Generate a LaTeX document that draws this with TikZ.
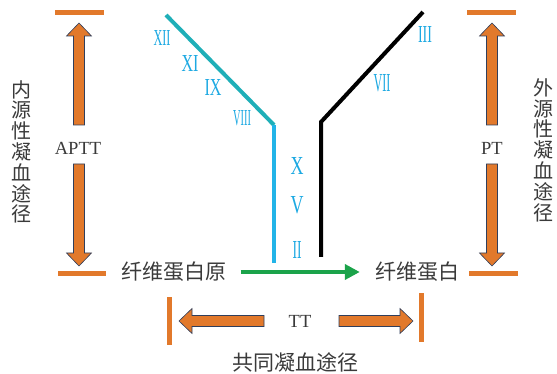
\documentclass[tikz,border=0pt]{standalone}
\usepackage{fontspec}
\setmainfont{Liberation Serif}
\newfontfamily\cjk{Noto Sans CJK SC}
\usetikzlibrary{arrows.meta}
\definecolor{orng}{HTML}{E2792B}
\definecolor{edge}{HTML}{2F3E5C}
\definecolor{teal}{HTML}{1FAFB8}
\definecolor{sky}{HTML}{22B4E8}
\definecolor{numblue}{HTML}{1DA9E2}
\definecolor{grn}{HTML}{1BA34A}
\definecolor{txt}{HTML}{3A3A3A}
% condensed roman numeral: width, height, text
\newcommand{\romlab}[3]{\resizebox{#1pt}{#2pt}{#3}}
% block arrow: tip x, tip y, rotation, total length
\newcommand{\blockarr}[4]{%
  \draw[blockarrow, shift={(#1,#2)}, rotate=#3]
    (0,0) -- (12.5,13) -- (5.5,13) -- (5.5,#4) -- (-5.5,#4) -- (-5.5,13) -- (-12.5,13) -- cycle;}
\begin{document}
\begin{tikzpicture}[x=1pt,y=-1pt,
  blockarrow/.style={fill=orng, draw=edge, line width=0.6pt},
  bar/.style={draw=orng, line width=5pt},
  cn/.style={font=\cjk\fontsize{21}{21}\selectfont, text=txt, inner sep=0pt},
  cnv/.style={font=\cjk\fontsize{20}{20.8}\selectfont, text=txt, inner sep=0pt, align=center},
  lat/.style={font=\fontsize{18.5}{18.5}\selectfont, text=txt, inner sep=0pt},
  rom/.style={text=numblue, inner sep=0pt},
  path/.style={line width=4pt}]
\useasboundingbox (0,0) rectangle (557,374);

% intrinsic pathway (left)
\draw[bar] (55,13) -- (104,13);
\draw[bar] (58,273) -- (106,273);
\blockarr{79}{23}{0}{102}
\blockarr{79}{266}{180}{102}
\node[lat] (aptt) at (78,148) {APTT};
\node[cnv] (intr) at (22,152) {内\\源\\性\\凝\\血\\途\\径};

% extrinsic pathway (right)
\draw[bar] (467,13) -- (516,13);
\draw[bar] (469,273) -- (518,273);
\blockarr{492}{23}{0}{102}
\blockarr{492}{266}{180}{102}
\node[lat] (pt) at (492,148) {PT};
\node[cnv] (extr) at (543,150) {外\\源\\性\\凝\\血\\途\\径};

% factor cascades
\coordinate (c1) at (166,15);
\coordinate (c2) at (274,125);
\coordinate (c3) at (274,263);
\draw[path, draw=teal] (c1) -- (c2);
\draw[path, draw=sky] (c2) -- (c3);
\coordinate (b1) at (423,12);
\coordinate (b2) at (321,122);
\coordinate (b3) at (321,257);
\draw[path, draw=black, line join=miter] (b1) -- (b2) -- (b3);

\node[rom] (f12) at (162,38) {\romlab{17}{15}{XII}};
\node[rom] (f11) at (190,64) {\romlab{17}{16}{XI}};
\node[rom] (f9)  at (213,88) {\romlab{17}{16}{IX}};
\node[rom] (f8)  at (242,118) {\romlab{18}{15}{VIII}};
\node[rom] (f3)  at (425,35) {\romlab{14}{16}{III}};
\node[rom] (f7)  at (382,83) {\romlab{17}{17}{VII}};
\node[rom] (f10) at (297,166) {\romlab{13}{17}{X}};
\node[rom] (f5)  at (297,205) {\romlab{13}{17}{V}};
\node[rom] (f2)  at (297,250) {\romlab{9}{17}{II}};

% fibrinogen to fibrin
\node[cn] (fgn) at (174,272) {纤维蛋白原};
\node[cn] (fbn) at (417,272) {纤维蛋白};
\draw[grn, line width=4pt, -{Triangle[length=15pt,width=15pt]},
  shorten <=14pt, shorten >=15pt] (fgn.east) -- (fbn.west);

% common pathway
\draw[bar] (169,297) -- (169,345);
\draw[bar] (421,293) -- (421,342);
\blockarr{179}{321}{90}{85}
\blockarr{413}{321}{-90}{74}
\node[lat] (tt) at (300,321) {TT};
\node[cn] (comm) at (295,362) {共同凝血途径};
\end{tikzpicture}
\end{document}
